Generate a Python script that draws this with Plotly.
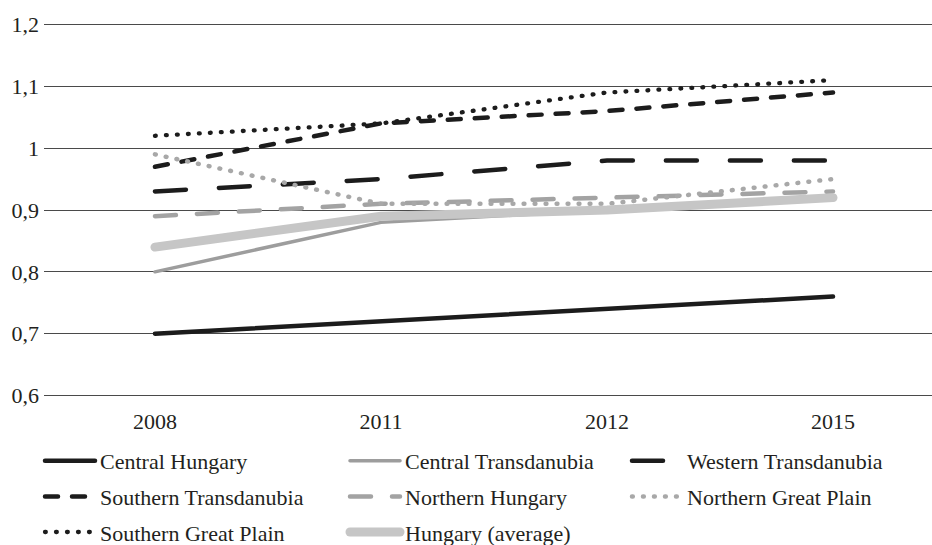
import plotly.graph_objects as go

years = ["2008", "2011", "2012", "2015"]

central_hungary = [0.70, 0.72, 0.74, 0.76]
central_transdanubia = [0.80, 0.88, 0.90, 0.92]
western_transdanubia = [0.93, 0.95, 0.98, 0.98]
southern_transdanubia = [0.97, 1.04, 1.06, 1.09]
northern_hungary = [0.89, 0.91, 0.92, 0.93]
northern_great_plain = [0.99, 0.91, 0.91, 0.95]
southern_great_plain = [1.02, 1.04, 1.09, 1.11]
hungary_average = [0.84, 0.89, 0.90, 0.92]

# dash patterns are drawn with round line caps (see post_script)
series = [
    ("Central Hungary", central_hungary, "#1c1c1c", 4.5, "solid", "legend"),
    ("Central Transdanubia", central_transdanubia, "#9d9d9d", 3.5, "solid", "legend2"),
    ("Western Transdanubia", western_transdanubia, "#1c1c1c", 4.5, "31px,33px", "legend3"),
    ("Southern Transdanubia", southern_transdanubia, "#1c1c1c", 4.5, "13px,14px", "legend"),
    ("Northern Hungary", northern_hungary, "#a3a3a3", 4.5, "21px,21px", "legend2"),
    ("Northern Great Plain", northern_great_plain, "#a8a8a8", 4.5, "0.8px,10.2px", "legend3"),
    ("Southern Great Plain", southern_great_plain, "#1c1c1c", 4.3, "0.8px,10.2px", "legend"),
    ("Hungary (average)", hungary_average, "#c6c6c6", 9, "solid", "legend2"),
]

FONT = "Liberation Serif, Times New Roman, serif"
TXT = "#231f20"

fig = go.Figure()
for name, vals, color, width, dash, leg in series:
    fig.add_trace(go.Scatter(
        x=years, y=vals, name=name, mode="lines",
        line=dict(color=color, width=width, dash=dash),
        legend=leg, legendgroup=name,
    ))

W, H = 932, 545
L, T, B = 44, 22, 147
plot_w = W - L
plot_h = H - T - B


def px_x(px):
    return (px - L) / plot_w


def px_y(py):
    return (H - B - py) / plot_h


leg_common = dict(
    orientation="v", xanchor="left", yanchor="top",
    font=dict(family=FONT, size=22, color=TXT),
    bgcolor="rgba(0,0,0,0)", borderwidth=0,
    tracegroupgap=4, itemwidth=50, traceorder="grouped",
)

fig.update_layout(
    width=W, height=H,
    margin=dict(l=L, r=0, t=T, b=B, autoexpand=False),
    paper_bgcolor="white", plot_bgcolor="white",
    separators=",.",
    font=dict(family=FONT, size=22, color=TXT),
    xaxis=dict(
        type="category", range=[-0.491, 3.438],
        showgrid=False, zeroline=False, showline=False,
        ticks="", ticklabelstandoff=8,
        tickfont=dict(family=FONT, size=22, color=TXT),
    ),
    yaxis=dict(
        range=[0.596, 1.204], tick0=0.6, dtick=0.1,
        showgrid=True, gridcolor="#4a4a4a", gridwidth=1.3,
        zeroline=False, showline=False, ticks="",
        ticklabelstandoff=4,
        tickfont=dict(family=FONT, size=22, color=TXT),
    ),
    showlegend=True,
    legend=dict(x=px_x(40), y=px_y(440), **leg_common),
    legend2=dict(x=px_x(345), y=px_y(440), **leg_common),
    legend3=dict(x=px_x(627), y=px_y(440), **leg_common),
)

post = (
    "document.body.style.margin='0';document.body.style.padding='0';"
    "document.querySelectorAll('.scatterlayer path.js-line, .legendlines path')"
    ".forEach(function(p){p.style.strokeLinecap='round';});"
)

fig.write_html(
    "out.html",
    config={"displayModeBar": False},
    post_script=post,
)
